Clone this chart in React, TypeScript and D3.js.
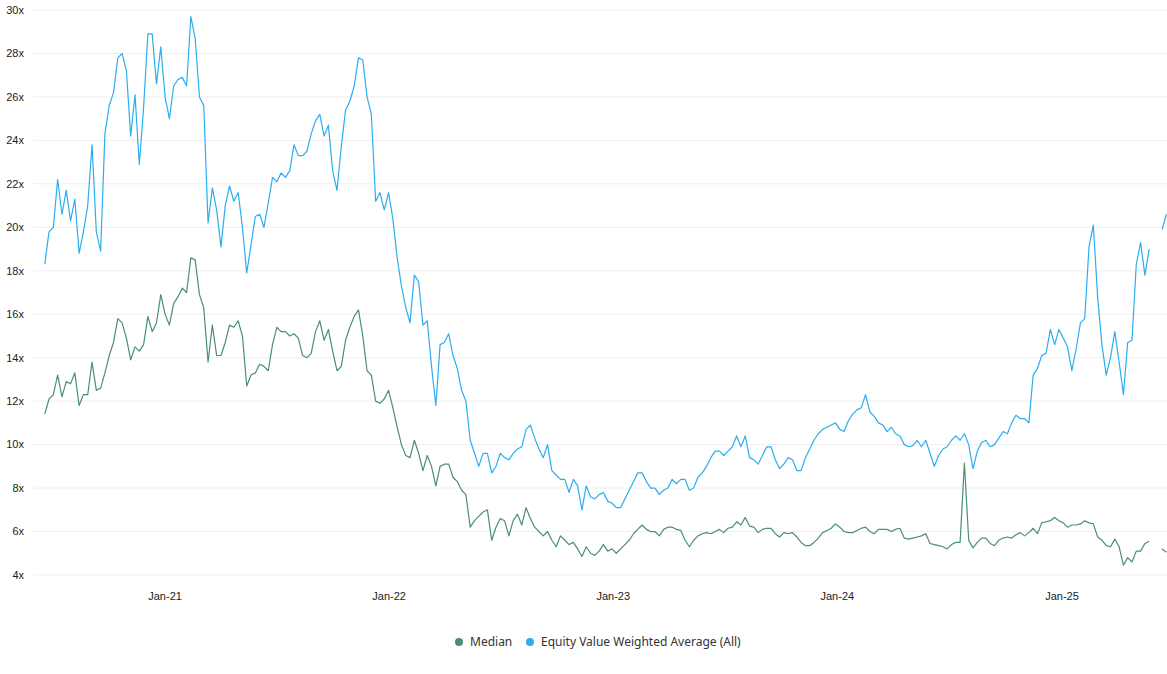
import * as d3 from "d3";

// weekly observations, first one on 19 Jun 2020
const startDate = new Date(2020, 5, 19);

const weightedAvg: (number | null)[] = [
  18.3, 19.8, 20.0, 22.2, 20.6, 21.7, 20.3, 21.3, 18.8, 19.8,
  21.0, 23.8, 19.8, 18.9, 24.3, 25.6, 26.2, 27.8, 28.0, 27.2,
  24.2, 26.1, 22.9, 25.5, 28.9, 28.9, 26.6, 28.3, 26.0, 25.0,
  26.5, 26.8, 26.9, 26.5, 29.7, 28.7, 26.0, 25.6, 20.2, 21.8,
  20.8, 19.1, 21.0, 21.9, 21.2, 21.6, 20.0, 17.9, 19.2, 20.5,
  20.6, 20.0, 21.1, 22.3, 22.1, 22.5, 22.3, 22.6, 23.8, 23.3,
  23.3, 23.5, 24.3, 24.9, 25.2, 24.2, 24.7, 22.6, 21.7, 23.7,
  25.4, 25.8, 26.5, 27.8, 27.7, 26.0, 25.2, 21.2, 21.6, 20.8,
  21.6, 20.4, 18.6, 17.3, 16.3, 15.6, 17.8, 17.5, 15.5, 15.7,
  13.6, 11.8, 14.6, 14.7, 15.1, 14.1, 13.5, 12.5, 12.0, 10.2,
  9.6, 9.0, 9.6, 9.6, 8.7, 9.0, 9.6, 9.4, 9.3, 9.6,
  9.8, 9.9, 10.7, 10.9, 10.3, 9.8, 9.4, 10.0, 8.8, 8.6,
  8.4, 8.4, 7.8, 8.4, 8.1, 7.0, 8.1, 7.6, 7.5, 7.7,
  7.8, 7.4, 7.3, 7.1, 7.1, 7.5, 7.9, 8.3, 8.7, 8.7,
  8.3, 8.0, 8.0, 7.7, 7.9, 8.0, 8.4, 8.2, 8.4, 8.4,
  7.9, 8.0, 8.5, 8.7, 9.0, 9.4, 9.7, 9.7, 9.5, 9.7,
  9.9, 10.4, 9.9, 10.4, 9.4, 9.3, 9.1, 9.5, 9.9, 9.9,
  9.3, 8.9, 9.1, 9.4, 9.3, 8.8, 8.8, 9.4, 9.8, 10.2,
  10.5, 10.7, 10.8, 10.9, 11.0, 10.7, 10.6, 11.1, 11.4, 11.6,
  11.7, 12.3, 11.5, 11.3, 11.0, 10.9, 10.6, 10.8, 10.5, 10.4,
  10.0, 9.9, 9.95, 10.2, 9.9, 10.2, 9.6, 9.0, 9.5, 9.8,
  9.9, 10.2, 10.4, 10.2, 10.5, 10.0, 8.9, 9.7, 10.1, 10.2,
  9.9, 10.0, 10.3, 10.6, 10.5, 11.0, 11.35, 11.2, 11.2, 11.0,
  13.2, 13.5, 14.1, 14.2, 15.3, 14.6, 15.3, 14.9, 14.5, 13.4,
  14.4, 15.6, 15.8, 19.1, 20.1, 16.8, 14.6, 13.2, 14.0, 15.2,
  13.8, 12.3, 14.7, 14.8, 18.3, 19.3, 17.8, 19.0, null, null,
  19.9, 20.6,
];

const median: (number | null)[] = [
  11.4, 12.1, 12.3, 13.2, 12.2, 12.9, 12.8, 13.3, 11.8, 12.3,
  12.3, 13.8, 12.5, 12.6, 13.3, 14.1, 14.7, 15.8, 15.6, 14.9,
  13.9, 14.5, 14.3, 14.6, 15.9, 15.2, 15.6, 16.9, 16.0, 15.5,
  16.5, 16.8, 17.2, 17.0, 18.6, 18.5, 16.9, 16.3, 13.8, 15.5,
  14.1, 14.1, 14.7, 15.5, 15.4, 15.7, 15.0, 12.7, 13.2, 13.3,
  13.7, 13.6, 13.4, 14.6, 15.4, 15.2, 15.2, 15.0, 15.1, 14.9,
  14.1, 14.0, 14.2, 15.2, 15.7, 14.8, 15.3, 14.3, 13.4, 13.6,
  14.8, 15.4, 15.9, 16.2, 15.0, 13.4, 13.2, 12.0, 11.9, 12.1,
  12.5, 11.7, 10.8, 10.0, 9.5, 9.4, 10.2, 9.6, 8.8, 9.5,
  9.0, 8.1, 9.0, 9.1, 9.1, 8.5, 8.3, 7.9, 7.7, 6.2,
  6.5, 6.7, 6.9, 7.0, 5.6, 6.2, 6.6, 6.5, 5.8, 6.5,
  6.8, 6.3, 7.1, 6.6, 6.2, 6.0, 5.8, 6.0, 5.6, 5.3,
  5.8, 5.6, 5.4, 5.5, 5.2, 4.85, 5.3, 5.0, 4.9, 5.1,
  5.4, 5.1, 5.2, 5.0, 5.2, 5.4, 5.6, 5.9, 6.1, 6.3,
  6.1, 6.0, 6.0, 5.8, 6.1, 6.2, 6.2, 6.1, 6.05, 5.6,
  5.3, 5.6, 5.8, 5.9, 5.95, 5.9, 6.0, 6.1, 5.95, 6.15,
  6.2, 6.45, 6.3, 6.65, 6.25, 6.2, 5.95, 6.1, 6.15, 6.15,
  5.9, 5.75, 5.95, 5.9, 5.95, 5.75, 5.5, 5.35, 5.35, 5.5,
  5.7, 5.95, 6.05, 6.15, 6.35, 6.2, 6.0, 5.95, 5.95, 6.05,
  6.15, 6.2, 6.0, 5.9, 6.1, 6.1, 6.1, 6.0, 6.1, 6.15,
  5.7, 5.65, 5.7, 5.75, 5.8, 5.9, 5.45, 5.4, 5.35, 5.3,
  5.2, 5.4, 5.5, 5.5, 9.15, 5.6, 5.25, 5.5, 5.7, 5.7,
  5.45, 5.35, 5.6, 5.7, 5.75, 5.7, 5.85, 5.95, 5.8, 5.95,
  6.15, 5.9, 6.4, 6.45, 6.5, 6.65, 6.5, 6.4, 6.2, 6.3,
  6.3, 6.35, 6.5, 6.4, 6.35, 5.75, 5.6, 5.35, 5.3, 5.65,
  5.3, 4.45, 4.8, 4.6, 5.1, 5.1, 5.45, 5.55, null, null,
  5.2, 5.05,
];

const yTicks = [4, 6, 8, 10, 12, 14, 16, 18, 20, 22, 24, 26, 28, 30];
const xTickLabels = ["Jan-21", "Jan-22", "Jan-23", "Jan-24", "Jan-25"];
const xTickDates = [
  new Date(2021, 0, 1),
  new Date(2022, 0, 1),
  new Date(2023, 0, 1),
  new Date(2024, 0, 1),
  new Date(2025, 0, 1),
];

const seriesNames = ["Median", "Equity Value Weighted Average (All)"];
const colors = ["#4a8f73", "#2aaef0"];

export default function App() {
  const width = 1167;
  const height = 674;
  const left = 33;
  const right = 1167;

  const dates = weightedAvg.map((_, i) => d3.timeDay.offset(startDate, 7 * i));

  const x = d3
    .scaleTime()
    .domain([new Date(2020, 5, 1), new Date(2025, 5, 21)])
    .range([left + 0.7, right]);

  const y = d3.scaleLinear().domain([4, 30]).range([575, 10]);

  const line = d3
    .line<number | null>()
    .defined((d) => d != null)
    .x((_, i) => x(dates[i]))
    .y((d) => y(d as number));

  const series = [median, weightedAvg];

  return (
    <div style={{ position: "absolute", left: 0, top: 0 }}>
      <svg width={width} height={height} style={{ display: "block", background: "#fff" }}>
        <g>
          {yTicks.map((t) => (
            <g key={t}>
              <line x1={left} x2={right} y1={y(t)} y2={y(t)} stroke="#efefef" strokeWidth={1} />
              <text
                x={24}
                y={y(t)}
                dy="0.35em"
                textAnchor="end"
                fontFamily="'Liberation Sans', Arial, sans-serif"
                fontSize={11}
                fill="#222"
              >
                {t}x
              </text>
            </g>
          ))}
        </g>
        <g>
          {xTickDates.map((d, i) => (
            <text
              key={xTickLabels[i]}
              x={x(d)}
              y={600}
              textAnchor="middle"
              fontFamily="'Liberation Sans', Arial, sans-serif"
              fontSize={11}
              fill="#222"
            >
              {xTickLabels[i]}
            </text>
          ))}
        </g>
        {series.map((s, k) => (
          <path
            key={seriesNames[k]}
            d={line(s) || ""}
            fill="none"
            stroke={colors[k]}
            strokeWidth={1.2}
            strokeLinejoin="round"
          />
        ))}
        <g fontFamily="'Noto Sans', 'Open Sans', sans-serif" fontSize={12} fill="#333">
          <circle cx={459} cy={642} r={4} fill={colors[0]} />
          <text x={470} y={642} dy="0.35em">
            {seriesNames[0]}
          </text>
          <circle cx={530} cy={642} r={4} fill={colors[1]} />
          <text x={541} y={642} dy="0.35em">
            {seriesNames[1]}
          </text>
        </g>
      </svg>
    </div>
  );
}
